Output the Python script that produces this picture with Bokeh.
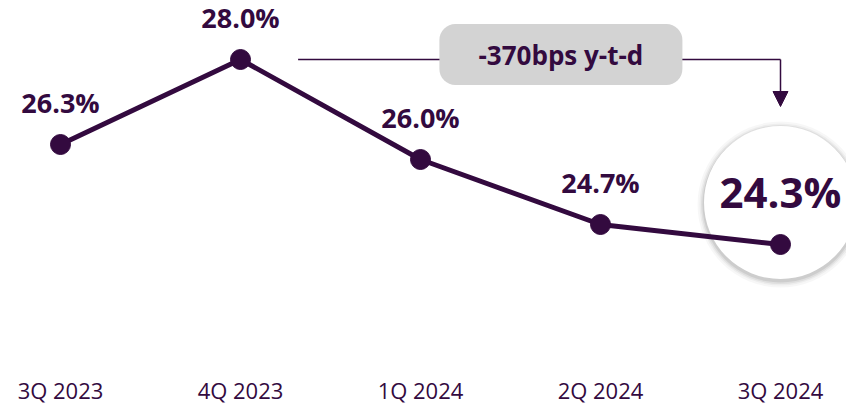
from bokeh.plotting import figure
from bokeh.models import Range1d, FixedTicker, Arrow, NormalHead
from bokeh.core.properties import value
from bokeh.embed import file_html
from bokeh.resources import INLINE

# ---- data ----
quarters = ["3Q 2023", "4Q 2023", "1Q 2024", "2Q 2024", "3Q 2024"]
rates = [26.3, 28.0, 26.0, 24.7, 24.3]
note_text = "-370bps y-t-d"

# ---- style ----
PURPLE = "#330a3f"
GREY_BOX = "#d3d3d3"
FONT = "Open Sans"

xs = list(range(len(quarters)))
labels = [f"{v:.1f}%" for v in rates]

FRAME_W, FRAME_H = 846, 362
PX_PER_X = 180.0
PX_PER_Y = 50.0
x_start = xs[0] - 60 / PX_PER_X
y_end = max(rates) + 59 / PX_PER_Y

p = figure(frame_width=FRAME_W, frame_height=FRAME_H,
           x_range=Range1d(x_start, x_start + FRAME_W / PX_PER_X),
           y_range=Range1d(y_end - FRAME_H / PX_PER_Y, y_end),
           output_backend="svg", toolbar_location=None,
           y_axis_location=None, min_border=0)
p.outline_line_color = None
p.xgrid.visible = False
p.ygrid.visible = False
p.background_fill_color = "white"
p.border_fill_color = "white"

ax = p.xaxis[0]
ax.ticker = FixedTicker(ticks=xs)
ax.major_label_overrides = {i: q for i, q in zip(xs, quarters)}
ax.axis_line_color = None
ax.major_tick_line_color = None
ax.minor_tick_line_color = None
ax.major_label_standoff = 6
ax.major_label_text_font = FONT
ax.major_label_text_font_size = "22px"
ax.major_label_text_color = PURPLE

# ---- highlight circle for the last quarter ----
last = xs[-1]
circ_y = rates[-1] + 42 / PX_PER_Y
for r, a in [(83, 0.03), (81, 0.04), (79.5, 0.06), (78, 0.08)]:
    p.circle(x=[last], y=[circ_y - 2 / PX_PER_Y], radius=r, radius_units="screen",
             fill_color="black", fill_alpha=a, line_color=None)
p.circle(x=[last], y=[circ_y], radius=76.5, radius_units="screen",
         fill_color="white", line_color=None)

# ---- annotation: bracket line + arrow + grey box ----
peak_i = rates.index(max(rates))
p.line(x=[peak_i + 0.32, last], y=[max(rates), max(rates)],
       line_color=PURPLE, line_width=1.5)
p.add_layout(Arrow(end=NormalHead(size=15, fill_color=PURPLE, line_color=PURPLE),
                   x_start=last, y_start=max(rates), x_end=last,
                   y_end=max(rates) - 47 / PX_PER_Y,
                   line_color=PURPLE, line_width=1.5))
box_x = 2.78
box_y = max(rates) + 5 / PX_PER_Y
p.rect(x=[box_x], y=[box_y], width=243, height=61, width_units="screen",
       height_units="screen", fill_color=GREY_BOX, line_color=None, border_radius=16)
p.text(x=[box_x], y=[box_y], text=[note_text], text_align="center",
       text_baseline="middle", text_font=value(FONT), text_font_style="bold",
       text_font_size="26px", text_color=PURPLE)

# ---- main series ----
p.line(xs, rates, line_color=PURPLE, line_width=5)
p.scatter(xs, rates, size=20, fill_color=PURPLE, line_color=PURPLE)

p.text(xs[:-1], rates[:-1], text=labels[:-1], y_offset=-42, text_align="center",
       text_baseline="middle", text_font=value(FONT), text_font_style="bold",
       text_font_size="27px", text_color=PURPLE)
p.text(xs[-1:], rates[-1:], text=labels[-1:], y_offset=-53, text_align="center",
       text_baseline="middle", text_font=value(FONT), text_font_style="bold",
       text_font_size="42px", text_color=PURPLE)

open("out.html", "w").write(file_html(p, INLINE))
